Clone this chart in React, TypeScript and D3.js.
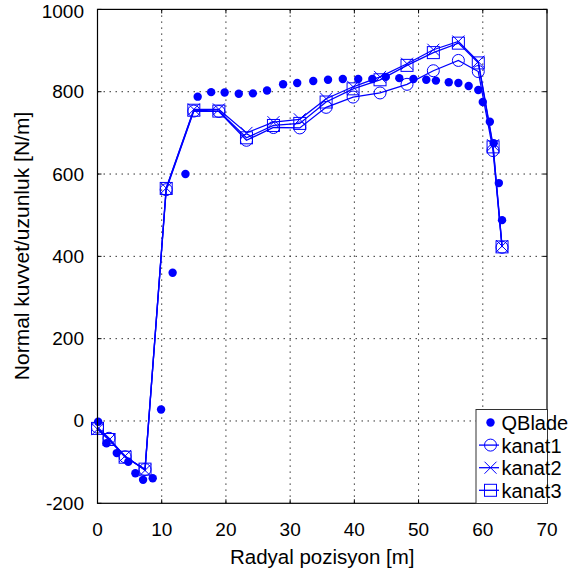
import React from "react";
import * as d3 from "d3";

const qbladeX = [0.1, 1.4, 3.0, 4.8, 5.9, 7.1, 8.6, 9.9, 11.7, 13.7, 15.6, 17.7, 19.8, 22.0, 24.2, 26.4, 28.9, 31.1, 33.6, 35.9, 38.2, 40.6, 42.8, 44.9, 47.0, 49.2, 51.2, 52.7, 54.7, 56.2, 57.8, 59.3, 60.0, 61.1, 61.7, 62.5, 63.0];
const qbladeY = [-2, -54, -78, -99, -127, -143, -139, 28, 360, 600, 788, 799, 798, 795, 796, 803, 818, 821, 826, 829, 831, 831, 831, 836, 833, 831, 829, 827, 823, 821, 814, 804, 775, 727, 675, 578, 488];

const kanatX = [0, 1.8, 4.3, 7.4, 10.7, 15.0, 18.9, 23.2, 27.4, 31.5, 35.6, 39.8, 44.0, 48.2, 52.3, 56.2, 59.3, 61.6, 63.0];
const kanat1 = [-15, -42, -87, -118, 562, 753, 752, 682, 713, 712, 762, 787, 797, 818, 851, 876, 849, 657, 422];
const kanat2 = [-20, -46, -85, -120, 566, 757, 757, 700, 726, 733, 783, 812, 836, 868, 902, 922, 873, 670, 425];
const kanat3 = [-18, -45, -88, -117, 565, 755, 753, 688, 718, 723, 775, 807, 829, 864, 895, 918, 870, 666, 423];

const xTicks = [0, 10, 20, 30, 40, 50, 60, 70];
const yTicks = [-200, 0, 200, 400, 600, 800, 1000];
const legendLabels = ["QBlade", "kanat1", "kanat2", "kanat3"];

const BLUE = "#0000ff";
const FONT = "'Liberation Sans', Arial, Helvetica, sans-serif";

function Marker({ kind, x, y }: { kind: string; x: number; y: number }) {
  const s = 6;
  if (kind === "dot") return <circle cx={x} cy={y} r={4.2} fill={BLUE} />;
  if (kind === "circle") return <circle cx={x} cy={y} r={6} fill="none" stroke={BLUE} strokeWidth={1} />;
  if (kind === "x")
    return (
      <path d={`M${x - s},${y - s}L${x + s},${y + s}M${x - s},${y + s}L${x + s},${y - s}`} stroke={BLUE} strokeWidth={1} fill="none" />
    );
  return <rect x={x - s} y={y - s} width={2 * s} height={2 * s} fill="none" stroke={BLUE} strokeWidth={1} />;
}

export default function App() {
  const x = d3.scaleLinear().domain([0, 70]).range([97.5, 547]);
  const y = d3.scaleLinear().domain([-200, 1000]).range([503.3, 9.4]);
  const [x0, x1] = x.range();
  const [y0, y1] = y.range();
  const line = d3
    .line<[number, number]>()
    .x((d) => x(d[0]))
    .y((d) => y(d[1]));

  const series = [
    { vals: kanat1, kind: "circle" },
    { vals: kanat2, kind: "x" },
    { vals: kanat3, kind: "rect" },
  ];

  const legKinds = ["dot", "circle", "x", "rect"];

  return (
    <svg
      width={575}
      height={574}
      style={{ position: "absolute", left: 0, top: 0, background: "#fff" }}
      fontFamily={FONT}
    >
      <rect x={0} y={0} width={575} height={574} fill="#fff" />
      {/* grid */}
      {xTicks.slice(1, -1).map((t) => (
        <line key={"gx" + t} x1={x(t)} x2={x(t)} y1={y1} y2={y0} stroke="#333" strokeWidth={1} strokeDasharray="1.5,4.5" />
      ))}
      {yTicks.slice(1, -1).map((t) => (
        <line key={"gy" + t} x1={x0} x2={x1} y1={y(t)} y2={y(t)} stroke="#333" strokeWidth={1} strokeDasharray="1.5,4.5" />
      ))}
      {/* ticks inward */}
      {xTicks.map((t) => (
        <g key={"tx" + t}>
          <line x1={x(t)} x2={x(t)} y1={y0} y2={y0 - 4} stroke="#000" />
          <line x1={x(t)} x2={x(t)} y1={y1} y2={y1 + 4} stroke="#000" />
          <text x={x(t)} y={y0 + 33} textAnchor="middle" fontSize={19} fill="#000">
            {t}
          </text>
        </g>
      ))}
      {yTicks.map((t) => (
        <g key={"ty" + t}>
          <line x1={x0} x2={x0 + 4} y1={y(t)} y2={y(t)} stroke="#000" />
          <line x1={x1} x2={x1 - 4} y1={y(t)} y2={y(t)} stroke="#000" />
          <text x={84} y={y(t) + (t === 1000 ? 9 : 6.5)} textAnchor="end" fontSize={19} fill="#000">
            {t}
          </text>
        </g>
      ))}
      {/* series lines */}
      {series.map((s, i) => (
        <path
          key={"l" + i}
          d={line(kanatX.map((v, j) => [v, s.vals[j]] as [number, number])) || ""}
          fill="none"
          stroke={BLUE}
          strokeWidth={1.3}
        />
      ))}
      {series.map((s, i) => (
        <g key={"m" + i}>
          {kanatX.map((v, j) => (
            <Marker key={j} kind={s.kind} x={x(v)} y={y(s.vals[j])} />
          ))}
        </g>
      ))}
      {qbladeX.map((v, j) => (
        <Marker key={"q" + j} kind="dot" x={x(v)} y={y(qbladeY[j])} />
      ))}
      {/* frame */}
      <rect x={x0} y={y1} width={x1 - x0} height={y0 - y1} fill="none" stroke="#000" strokeWidth={1.2} />
      {/* labels */}
      <text x={(x0 + x1) / 2} y={564} textAnchor="middle" fontSize={20.5} fill="#000">
        Radyal pozisyon [m]
      </text>
      <text
        transform={`translate(29,246) rotate(-90)`}
        textAnchor="middle"
        fontSize={21}
        fill="#000"
      >
        Normal kuvvet/uzunluk [N/m]
      </text>
      {/* legend */}
      <rect x={476} y={409.5} width={71.5} height={94} fill="#fff" stroke="#333" strokeWidth={1} />
      {legendLabels.map((lab, i) => {
        const cy = 422.5 + i * 22.6;
        return (
          <g key={lab}>
            {i > 0 && <line x1={479} x2={499} y1={cy} y2={cy} stroke={BLUE} strokeWidth={1.3} />}
            <Marker kind={legKinds[i]} x={490.5} y={cy} />
            <text x={501.5} y={cy + 7.5} fontSize={20} fill="#000">
              {lab}
            </text>
          </g>
        );
      })}
    </svg>
  );
}
